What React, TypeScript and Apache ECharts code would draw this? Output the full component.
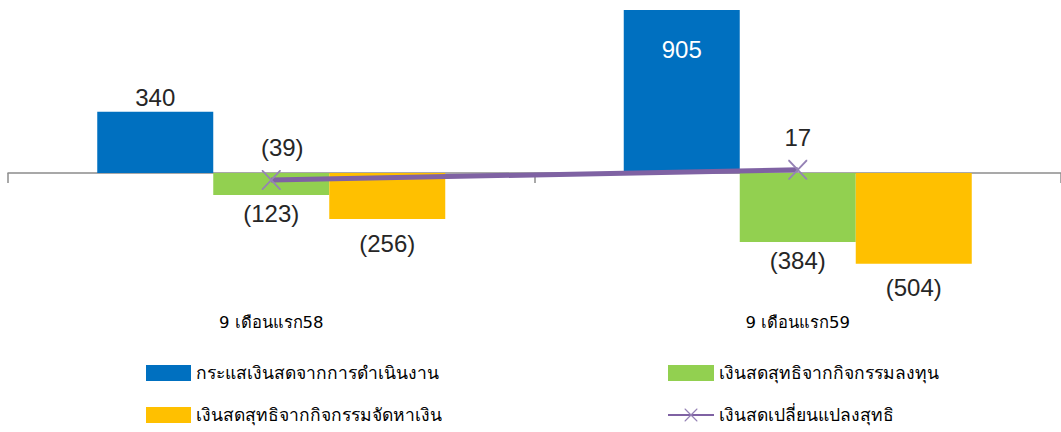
import React, { useEffect, useRef } from "react";
import * as echarts from "echarts";

const categories = ["9 เดือนแรก58", "9 เดือนแรก59"];
const operatingCF = [340, 905];
const investingCF = [-123, -384];
const financingCF = [-256, -504];
const netChange = [-39, 17];

const seriesNames = [
  "กระแสเงินสดจากการดำเนินงาน",
  "เงินสดสุทธิจากกิจกรรมลงทุน",
  "เงินสดสุทธิจากกิจกรรมจัดหาเงิน",
  "เงินสดเปลี่ยนแปลงสุทธิ",
];

const fmt = (v: number) => (v < 0 ? `(${-v})` : `${v}`);

const labelFont = {
  fontFamily: "Liberation Sans, Arial, sans-serif",
  fontSize: 24,
  color: "#262626",
};

const thaiFont = "Tahoma, DejaVu Sans, sans-serif";

const X_PATH =
  "path://M0,0L1.3,0L20,18.7L20,20L18.7,20L0,1.3Z M20,0L20,1.3L1.3,20L0,20L0,18.7L18.7,0Z";

export default function App() {
  const ref = useRef<HTMLDivElement>(null);
  useEffect(() => {
    if (!ref.current) return;
    const chart = echarts.init(ref.current, null, { renderer: "svg" });
    chart.setOption({
      animation: false,
      backgroundColor: "#ffffff",
      grid: { left: 8, top: 0, width: 1058, height: 299 },
      legend: [
        {
          left: 146,
          top: 364,
          padding: 0,
          orient: "vertical",
          itemWidth: 45,
          itemHeight: 16,
          itemGap: 24,
          data: [
            { name: seriesNames[0], icon: "rect" },
            { name: seriesNames[2], icon: "rect" },
          ],
          textStyle: { fontSize: 17.5, color: "#000", fontFamily: thaiFont },
        },
        {
          left: 667,
          top: 364,
          padding: 0,
          orient: "vertical",
          itemWidth: 46,
          itemHeight: 16,
          itemGap: 24,
          data: [{ name: seriesNames[1], icon: "rect" }, { name: seriesNames[3] }],
          textStyle: { fontSize: 17.5, color: "#000", fontFamily: thaiFont },
        },
      ],
      xAxis: [
        {
          type: "category",
          data: categories,
          axisLine: { onZero: true, lineStyle: { color: "#8c8c8c", width: 1.5 } },
          axisTick: { show: true, length: 10, lineStyle: { color: "#8c8c8c", width: 1.5 } },
          axisLabel: { show: false },
        },
        {
          type: "category",
          data: categories,
          position: "bottom",
          axisLine: { show: false, onZero: false },
          axisTick: { show: false },
          axisLabel: {
            margin: 15,
            fontSize: 16.5,
            color: "#000",
            fontFamily: thaiFont,
          },
        },
      ],
      yAxis: {
        type: "value",
        min: -700,
        max: 960,
        show: false,
        splitLine: { show: false },
      },
      series: [
        {
          name: seriesNames[0],
          type: "bar",
          data: operatingCF.map((v, i) => ({
            value: v,
            label:
              i === 1
                ? { position: "insideTop", distance: 28, color: "#ffffff" }
                : { position: "top", distance: 2 },
          })),
          barWidth: 116,
          barGap: "0%",
          itemStyle: { color: "#0070C0" },
          label: { show: true, formatter: (p: any) => fmt(p.value), ...labelFont },
        },
        {
          name: seriesNames[1],
          type: "bar",
          data: investingCF,
          barWidth: 116,
          barGap: "0%",
          itemStyle: { color: "#92D050" },
          label: {
            show: true,
            position: "bottom",
            distance: 6,
            formatter: (p: any) => fmt(p.value),
            ...labelFont,
          },
        },
        {
          name: seriesNames[2],
          type: "bar",
          data: financingCF,
          barWidth: 116,
          barGap: "0%",
          itemStyle: { color: "#FFC000" },
          label: {
            show: true,
            position: "bottom",
            distance: 12,
            formatter: (p: any) => fmt(p.value),
            ...labelFont,
          },
        },
        {
          name: seriesNames[3],
          type: "line",
          data: netChange.map((v, i) => ({
            value: v,
            label: i === 0 ? { offset: [11, 0] } : {},
          })),
          z: 5,
          symbol: X_PATH,
          symbolSize: [19, 20],
          symbolKeepAspect: false,
          lineStyle: { color: "#7F62A3", width: 5 },
          itemStyle: { color: "#9582B5" },
          label: {
            show: true,
            position: "top",
            distance: 10,
            formatter: (p: any) => fmt(p.value),
            ...labelFont,
          },
        },
      ],
    });
    return () => chart.dispose();
  }, []);
  return (
    <div
      ref={ref}
      style={{ position: "fixed", left: 0, top: 0, width: 1061, height: 432 }}
    />
  );
}
